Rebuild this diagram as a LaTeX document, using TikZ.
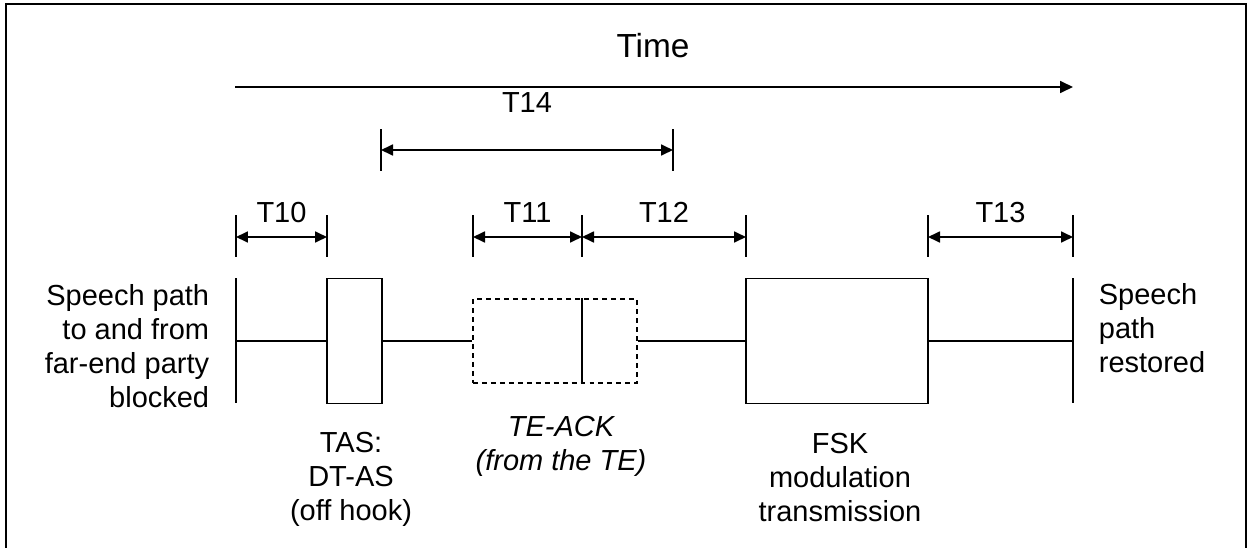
\documentclass[tikz,border=0pt]{standalone}
\usepackage{fontspec}
\setmainfont{Liberation Sans}
\usetikzlibrary{arrows.meta}

\begin{document}
\begin{tikzpicture}[x=0.02cm, y=-0.02cm, line width=1pt]
        \tikzstyle{every node}=[inner sep=0pt, font=\fontsize{16.5pt}{19.2pt}\selectfont]
        \tikzstyle{box}=[draw, rectangle, line width=1pt]
        \tikzstyle{dim}=[{Triangle[length=0.24cm,width=0.22cm]}-{Triangle[length=0.24cm,width=0.22cm]}]
        \useasboundingbox (0,0) rectangle (1252,548);
        \draw[line width=1.4pt] (6,560) -- (6,4) -- (1246,4) -- (1246,560);
        \node[anchor=base, font=\fontsize{19pt}{22pt}\selectfont] (time) at (653,57) {Time};
        \coordinate (ts) at (235,87); \coordinate (te) at (1073,87);
        \draw[-{Triangle[length=0.26cm,width=0.24cm]}] (ts) -- (te);
        \coordinate (m1) at (381,150); \coordinate (m2) at (673,150);
        \foreach \n in {1,2} \draw ([yshift=0.42cm]m\n) -- ([yshift=-0.42cm]m\n);
        \draw[dim] (m1) -- node[yshift=0.76cm, anchor=base] {T14} (m2);
        \foreach \n/\x in {1/236,2/327,3/473,4/582,5/746,6/928,7/1073} \coordinate (k\n) at (\x,237);
        \foreach \n in {1,...,7} \draw ([yshift=0.44cm]k\n) -- ([yshift=-0.4cm]k\n);
        \draw[dim] (k1) -- node[yshift=0.3cm, anchor=base] {T10} (k2);
        \draw[dim] (k3) -- node[yshift=0.3cm, anchor=base] {T11} (k4);
        \draw[dim] (k4) -- node[yshift=0.3cm, anchor=base] {T12} (k5);
        \draw[dim] (k6) -- node[yshift=0.3cm, anchor=base] {T13} (k7);
        \coordinate (lb) at (236,341); \coordinate (rb) at (1073,341);
        \draw ([yshift=1.26cm]lb) -- ([yshift=-1.24cm]lb);
        \draw ([yshift=1.26cm]rb) -- ([yshift=-1.24cm]rb);
        \node[box, minimum width=1.1cm, minimum height=2.5cm] (tas) at (354.5,341) {};
        \node[box, dash pattern=on 2.8pt off 2.3pt, minimum width=3.28cm, minimum height=1.68cm] (ack) at (555,341) {};
        \node[box, minimum width=3.64cm, minimum height=2.5cm] (fsk) at (837,341) {};
        \draw (ack.north -| k4) -- (ack.south -| k4);
        \draw (lb) -- (tas.west); \draw (tas.east) -- (ack.west);
        \draw (ack.east) -- (fsk.west); \draw (fsk.east) -- (rb);
        \node[anchor=base east, align=right] (blk) at (210,407) {Speech path\\to and from\\far-end party\\blocked};
        \node[anchor=base west, align=left] (rst) at (1098,372) {Speech\\path\\restored};
        \node[anchor=base, align=center] (tasl) at (351,520) {TAS:\\DT-AS\\(off hook)};
        \node[anchor=base, align=center, font=\fontsize{16.5pt}{19.2pt}\selectfont\itshape] (ackl) at (561,470) {TE-ACK\\(from the TE)};
        \node[anchor=base, align=center] (fskl) at (840,521) {FSK\\modulation\\transmission};
    \end{tikzpicture}
\end{document}
